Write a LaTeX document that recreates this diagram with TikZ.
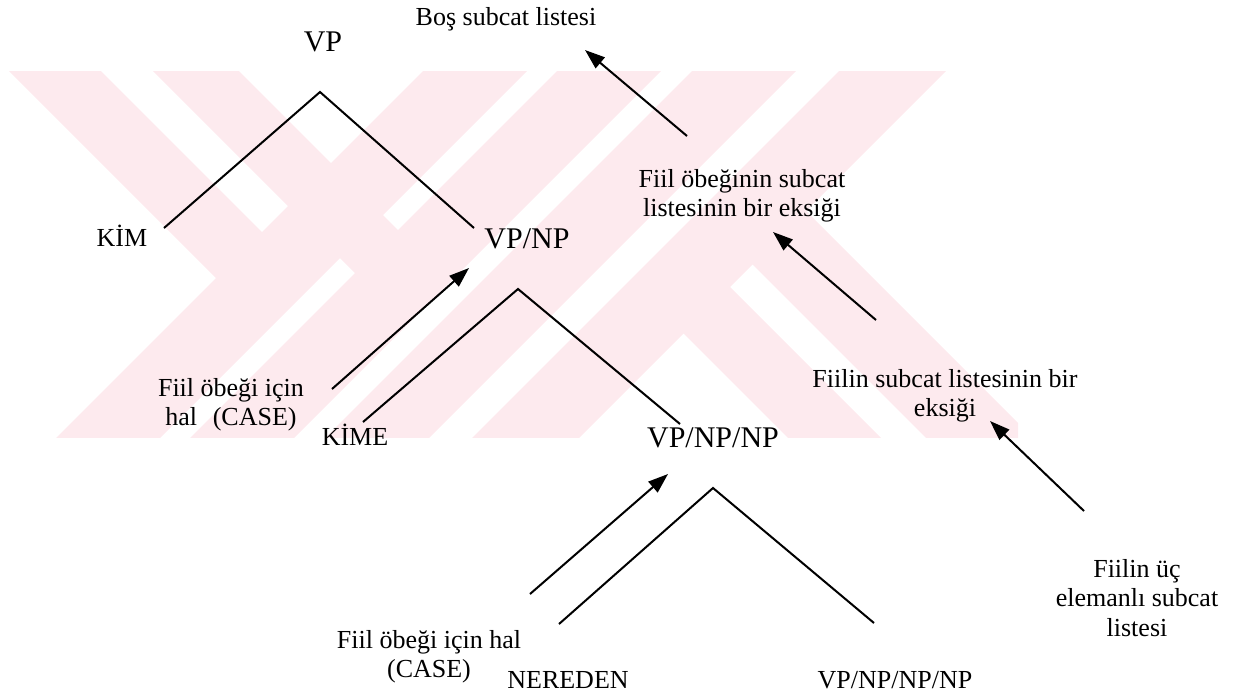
\documentclass[tikz,border=0pt]{standalone}
\usepackage{fontspec}
\setmainfont{Liberation Serif}
\usetikzlibrary{arrows.meta}
\definecolor{wmpink}{RGB}{253,234,238}
\begin{document}
\begin{tikzpicture}[x=1pt,y=-1pt,
  small/.style={inner sep=0pt, font=\fontsize{26}{29.5}\selectfont, align=center},
  big/.style={inner sep=0pt, font=\fontsize{30}{33}\selectfont},
  branch/.style={line width=2pt},
  ptr/.style={line width=2pt, -{Triangle[length=20pt,width=14pt]}},
  wm/.style={fill=wmpink}]
\useasboundingbox (0,0) rectangle (1245,694);
% watermark
\begin{scope}
\clip (0,71) rectangle (1018,437);
\fill[wm] (423,71) -- (527,71) -- (127,471) -- (23,471) -- cycle;
\fill[wm] (557,71) -- (661,71) -- (261,471) -- (157,471) -- cycle;
\fill[wm] (692,71) -- (796,71) -- (396,471) -- (292,471) -- cycle;
\fill[wm] (839,71) -- (946,71) -- (546,471) -- (439,471) -- cycle;
\fill[wm] (9,71) -- (101,71) -- (314,284) -- (216,278) -- cycle;
\fill[wm] (153,71) -- (239,71) -- (450,282) -- (355,273) -- cycle;
\fill[wm] (699,211) -- (806,211) -- (1106,511) -- (999,511) -- cycle;
\fill[wm] (637,287) -- (730,287) -- (943,500) -- (850,500) -- cycle;
\end{scope}
% labels
\node[small, anchor=base] (bos) at (506,25) {Boş subcat listesi};
\node[big, anchor=base] (vp) at (323,51) {VP};
\node[small, anchor=base] (kim) at (122,246) {KİM};
\node[big, anchor=base] (vpnp) at (527,248) {VP/NP};
\node[small, anchor=north] (fob) at (742,169) {Fiil öbeğinin subcat\\listesinin bir eksiği};
\node[small, anchor=north] (case1) at (231,378) {Fiil öbeği için\\hal\hspace{0.6em}(CASE)};
\node[small, anchor=base] (kime) at (355,445) {KİME};
\node[big, anchor=base] (vpnpnp) at (713,447) {VP/NP/NP};
\node[small, anchor=north] (fsl) at (945,369) {Fiilin subcat listesinin bir\\eksiği};
\node[small, anchor=north] (fuc) at (1137,559) {Fiilin üç\\elemanlı subcat\\listesi};
\node[small, anchor=north] (case2) at (429,630) {Fiil öbeği için hal\\(CASE)};
\node[small, anchor=base] (nereden) at (568,688) {NEREDEN};
\node[small, anchor=base] (vp3) at (895,688) {VP/NP/NP/NP};
% tree coordinates
\coordinate (t1) at (320,92);
\coordinate (t1l) at (164,228);
\coordinate (t1r) at (474,228);
\coordinate (t2) at (518,289);
\coordinate (t2l) at (363,422);
\coordinate (t2r) at (680,424);
\coordinate (t3) at (713,488);
\coordinate (t3l) at (559,624);
\coordinate (t3r) at (874,623);
\draw[branch] (t1l) -- (t1) -- (t1r);
\draw[branch] (t2l) -- (t2) -- (t2r);
\draw[branch] (t3l) -- (t3) -- (t3r);
% arrows
\coordinate (a1s) at (687,136);
\coordinate (a1e) at (585,50);
\coordinate (a2s) at (876,320);
\coordinate (a2e) at (773,232);
\coordinate (a3s) at (332,389);
\coordinate (a3e) at (469,268);
\coordinate (a4s) at (1084,511);
\coordinate (a4e) at (990,421);
\coordinate (a5s) at (530,594);
\coordinate (a5e) at (668,474);
\draw[ptr] (a1s) -- (a1e);
\draw[ptr] (a2s) -- (a2e);
\draw[ptr] (a3s) -- (a3e);
\draw[ptr] (a4s) -- (a4e);
\draw[ptr] (a5s) -- (a5e);
\end{tikzpicture}
\end{document}
